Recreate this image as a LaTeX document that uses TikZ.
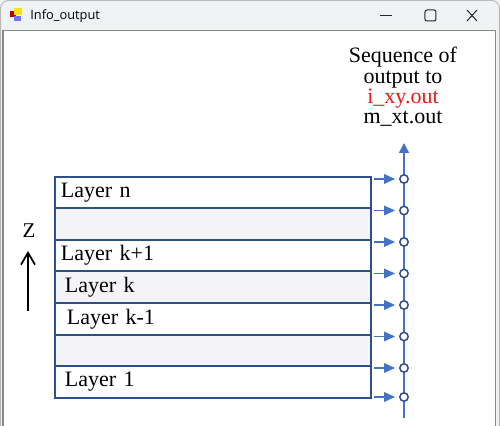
\documentclass[tikz,border=0pt]{standalone}
\usepackage{fontspec}
\setmainfont{Liberation Serif}
\newfontfamily\uifont{Open Sans}
\usepackage{xcolor}
\usepackage{tikz}
\usetikzlibrary{positioning,arrows.meta}
\definecolor{layerblue}{HTML}{2F4F8A}
\definecolor{arrowblue}{HTML}{4472C4}
\definecolor{rowgray}{HTML}{F4F4F6}
\definecolor{winbar}{HTML}{EFF3F4}
\definecolor{winedge}{HTML}{8A8A8A}
\definecolor{outred}{HTML}{E8191C}
\tikzset{
  layerbox/.style={draw=layerblue,fill=white,line width=1pt,minimum width=158pt,
    minimum height=15.8pt,text width=152pt,inner xsep=3pt,inner ysep=0pt,align=left,
    outer sep=0pt,font=\fontsize{11}{13}\selectfont},
  shadebox/.style={layerbox,fill=rowgray},
  flow/.style={-{Triangle[length=5.5pt,width=4.8pt]},line width=0.6pt,draw=arrowblue,shorten >=2pt},
  outpt/.style={circle,draw=layerblue,fill=white,line width=0.75pt,minimum size=4.2pt,inner sep=0pt},
  axis/.style={-{Triangle[length=5pt,width=5pt]},line width=0.75pt,draw=arrowblue},
  zarrow/.style={-{Straight Barb[length=6pt,width=7pt]},line width=0.85pt,draw=black},
  btn/.style={line width=0.5pt,draw=black!85},
}
\begin{document}
\begin{tikzpicture}[x=0.5pt,y=-0.5pt]
  \useasboundingbox (0,0) rectangle (500,426);
  % window frame
  \fill[winbar] (0,0) rectangle (500,426);
  \draw[winedge!60,line width=0.5pt,rounded corners=4pt] (0.5,0.5) rectangle (499.5,440);
  \draw[winedge,fill=white,line width=0.5pt] (3,31) rectangle (496,440);
  \fill[red!75!black] (10,11) rectangle (16,17);
  \fill[yellow!85!orange] (14,8) rectangle (22,15);
  \fill[blue!55] (14,16) rectangle (21,21);
  \node[anchor=west,inner sep=0pt,font=\uifont\fontsize{6.4}{8}\selectfont] (wtitle) at (30,16) {Info\_output};
  \draw[btn] (380,16) -- (392,16);
  \draw[btn,rounded corners=1pt] (425,10) rectangle (436,21);
  \draw[btn] (467,10) -- (477,21);
  \draw[btn] (467,21) -- (477,10);
  % output sequence
  \node[align=center,font=\fontsize{11}{10.2}\selectfont] (seq) at (403,87)
    {Sequence of\\output to\\\textcolor{outred}{i\_xy.out}\\m\_xt.out};
  % layers
  \node[layerbox] (ln) at (213,192.5) {Layer n};
  \node[shadebox] (lb2) at (213,224.1) {};
  \node[layerbox] (lk1) at (213,255.7) {Layer k+1};
  \node[shadebox] (lk) at (213,287.3) {\hspace{2pt}Layer k};
  \node[layerbox] (lkm) at (213,318.9) {\hspace{3pt}Layer k-1};
  \node[shadebox] (lb1) at (213,350.5) {};
  \node[layerbox] (l1) at (213,382.1) {\hspace{2pt}Layer 1};
  % output axis
  \coordinate (axb) at (404,418);
  \coordinate (axt) at (404,143);
  \draw[axis] (axb) -- (axt);
  \node[outpt] (o1) at (404,179) {};
  \node[outpt] (o2) at (404,210.5) {};
  \node[outpt] (o3) at (404,242) {};
  \node[outpt] (o4) at (404,273.5) {};
  \node[outpt] (o5) at (404,305) {};
  \node[outpt] (o6) at (404,336.5) {};
  \node[outpt] (o7) at (404,368) {};
  \node[outpt] (o8) at (404,397) {};
  \coordinate (a1) at (374,179);
  \coordinate (a2) at (374,210.5);
  \coordinate (a3) at (374,242);
  \coordinate (a4) at (374,273.5);
  \coordinate (a5) at (374,305);
  \coordinate (a6) at (374,336.5);
  \coordinate (a7) at (374,368);
  \coordinate (a8) at (374,397);
  \draw[flow] (a1)--(o1);
  \draw[flow] (a2)--(o2);
  \draw[flow] (a3)--(o3);
  \draw[flow] (a4)--(o4);
  \draw[flow] (a5)--(o5);
  \draw[flow] (a6)--(o6);
  \draw[flow] (a7)--(o7);
  \draw[flow] (a8)--(o8);
  % z direction
  \node[font=\fontsize{10.5}{12}\selectfont] (zlab) at (29,231) {Z};
  \coordinate (zb) at (28,311);
  \coordinate (zt) at (28,251);
  \draw[zarrow] (zb) -- (zt);
\end{tikzpicture}
\end{document}
